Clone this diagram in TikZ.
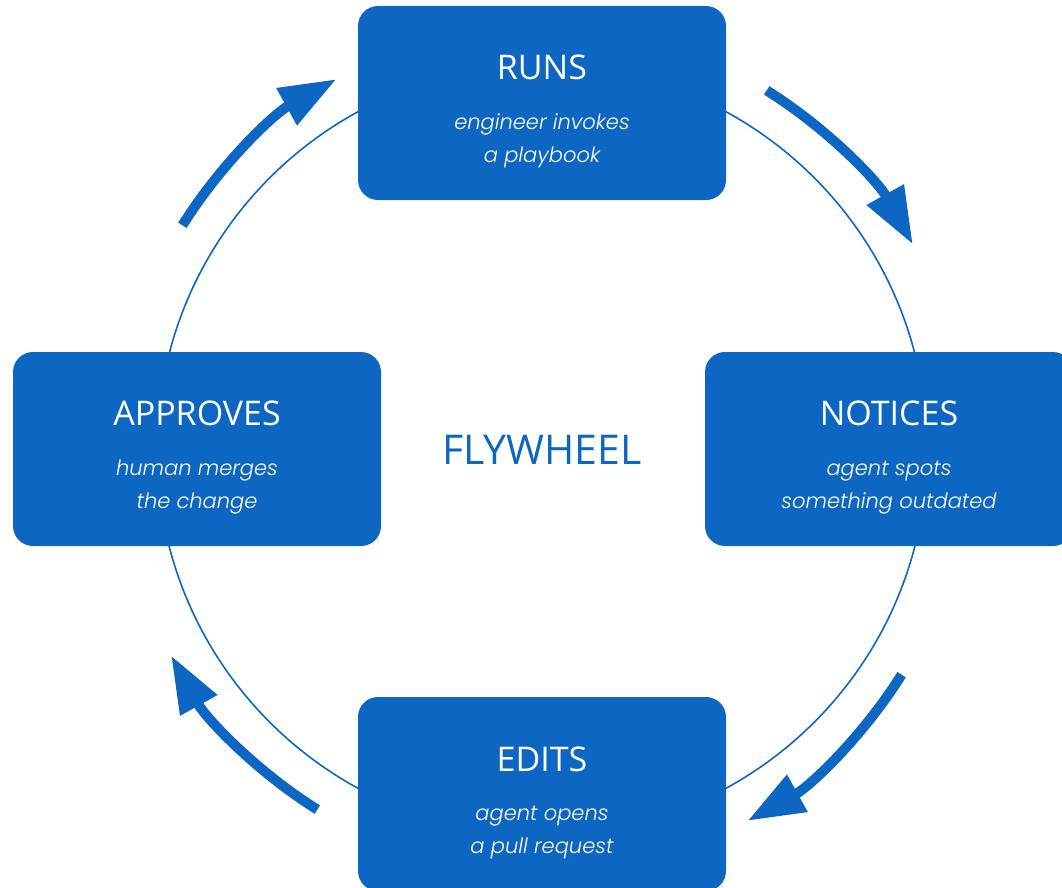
\documentclass[tikz,border=0pt]{standalone}
\usepackage{fontspec}
\usetikzlibrary{arrows.meta}
\setmainfont{Open Sans}
\IfFontExistsTF{Poppins Light Italic}
  {\newfontfamily\notefont{Poppins Light Italic}}
  {\IfFontExistsTF{Poppins Italic}
     {\newfontfamily\notefont{Poppins Italic}}
     {\newfontfamily\notefont{Lato Light Italic}}}
\definecolor{wheelblue}{RGB}{13,102,194}
\tikzset{
  stage/.style={fill=wheelblue, rounded corners=20pt, minimum width=368pt,
    minimum height=194pt, inner sep=0pt},
  stagetitle/.style={text=white, font=\fontsize{34}{40}\selectfont, anchor=base},
  % base anchor of a two-line note sits on its last line
  stagenote/.style={text=white, align=center, anchor=base,
    font=\notefont\fontsize{21}{33}\selectfont},
  cyclearrow/.style={wheelblue, line width=10pt,
    -{Triangle[length=57pt, width=40pt]}}
}
\begin{document}
\begin{tikzpicture}[x=1pt, y=-1pt]
\useasboundingbox (0,0) rectangle (1062,888);
\coordinate (c) at (542,450);

% the wheel
\draw[wheelblue, line width=1.6pt] (c) circle[radius=385];

% four stages
\node[stage] (runs) at (542,103) {};
\node[stage] (notices) at (889,449) {};
\node[stage] (approves) at (197,449) {};
\node[stage] (edits) at (542,794) {};

\node[stagetitle] (runsT) at ([yshift=23pt]runs.center) {RUNS};
\node[stagenote] (runsN) at ([yshift=-59pt]runs.center) {engineer invokes\\a playbook};

\node[stagetitle] (noticesT) at ([yshift=24pt]notices.center) {NOTICES};
\node[stagenote] (noticesN) at ([yshift=-59pt]notices.center) {agent spots\\something outdated};

\node[stagetitle] (approvesT) at ([yshift=24pt]approves.center) {APPROVES};
\node[stagenote] (approvesN) at ([yshift=-59pt]approves.center) {human merges\\the change};

\node[stagetitle] (editsT) at ([yshift=23pt]edits.center) {EDITS};
\node[stagenote] (editsN) at ([yshift=-59pt]edits.center) {agent opens\\a pull request};

% hub label
\node[text=wheelblue, font=\fontsize{41}{46}\selectfont] (hub) at (c) {FLYWHEEL};

% direction of travel, clockwise round the wheel
\draw[cyclearrow] ([shift={(-58:424)}]c) arc[start angle=-58, end angle=-29, radius=424];
\draw[cyclearrow] ([shift={(32:424)}]c) arc[start angle=32, end angle=61, radius=424];
\draw[cyclearrow] ([shift={(122:424)}]c) arc[start angle=122, end angle=151, radius=424];
\draw[cyclearrow] ([shift={(-148:424)}]c) arc[start angle=-148, end angle=-119, radius=424];
\end{tikzpicture}
\end{document}
